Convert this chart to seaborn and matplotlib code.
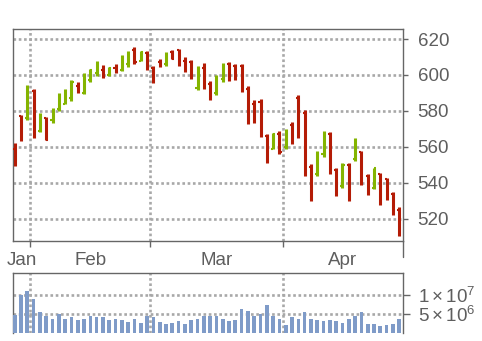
import numpy as np
import pandas as pd
import matplotlib
matplotlib.use("Agg")
import matplotlib.pyplot as plt
import seaborn as sns
from matplotlib.lines import Line2D

# ---------------- data ----------------
opens = [559, 577, 576, 591, 569, 576, 575, 581, 584, 587,
         594, 590, 597, 601, 603, 600, 604, 603, 606, 614,
         608, 612, 604, 607, 606, 613, 614, 608, 607, 593,
         604, 595, 590, 598, 606, 605, 605, 592, 584, 585,
         566, 559, 567, 560, 572, 587, 579, 549, 545, 556,
         567, 547, 538, 550, 553, 557, 544, 537, 545, 542,
         534, 525]
highs = [562.0, 577.7, 594.4, 592.1, 578.6, 576.4, 581.4, 589.7, 592.0, 597.2,
         596.2, 601.2, 603.3, 607.7, 605.5, 604.4, 606.1, 611.1, 613.3, 615.5,
         613.3, 613.3, 605.0, 608.7, 612.8, 613.9, 614.4, 609.8, 608.3, 605.0,
         606.4, 596.6, 599.9, 606.4, 607.0, 606.1, 606.1, 593.8, 586.0, 586.9,
         567.1, 567.8, 568.7, 569.9, 573.8, 588.8, 580.4, 550.7, 557.5, 568.7,
         568.4, 548.1, 550.9, 550.9, 564.7, 557.6, 544.8, 548.5, 545.7, 542.9,
         534.8, 526.6]
lows = [549.2, 563.4, 574.9, 565.2, 568.4, 563.7, 573.4, 579.9, 583.8, 585.6,
        590.1, 589.4, 596.2, 599.4, 598.5, 599.4, 601.2, 602.4, 604.6, 606.3,
        607.7, 602.7, 595.7, 604.6, 605.1, 608.9, 605.1, 601.8, 597.7, 591.6,
        592.1, 586.0, 588.8, 596.2, 596.6, 597.2, 590.7, 572.6, 573.4, 565.6,
        551.1, 558.7, 555.9, 558.7, 561.5, 565.0, 543.9, 529.9, 543.9, 554.5,
        544.8, 532.5, 537.1, 529.9, 552.2, 538.7, 533.1, 536.4, 527.5, 530.3,
        522.0, 510.3]
closes = [551, 565, 593, 566, 578, 564, 580, 588, 591, 596,
          591, 600, 603, 606, 599, 604, 602, 610, 612, 607,
          613, 605, 597, 605, 610, 609, 606, 603, 599, 604,
          594, 588, 599, 605, 598, 598, 592, 574, 576, 567,
          553, 567, 557, 569, 565, 567, 545, 532, 556, 567,
          546, 534, 550, 531, 564, 540, 534, 548, 529, 531,
          523, 511]
volumes = [4.7e6, 10.1e6, 11.0e6, 9.0e6, 5.6e6, 4.6e6, 3.8e6, 5.1e6, 3.8e6, 4.1e6,
           3.3e6, 3.6e6, 4.4e6, 4.1e6, 4.1e6, 3.4e6, 3.6e6, 3.3e6, 2.8e6, 3.8e6,
           2.6e6, 4.6e6, 4.1e6, 2.8e6, 2.3e6, 2.6e6, 3.1e6, 2.3e6, 3.3e6, 3.8e6,
           4.6e6, 4.6e6, 4.4e6, 3.6e6, 3.1e6, 3.3e6, 6.4e6, 5.9e6, 4.6e6, 5.1e6,
           7.4e6, 4.4e6, 3.8e6, 2.1e6, 4.1e6, 3.8e6, 5.4e6, 3.8e6, 3.3e6, 3.1e6,
           3.3e6, 3.1e6, 2.6e6, 3.8e6, 4.6e6, 5.6e6, 2.3e6, 2.3e6, 1.8e6, 2.1e6,
           2.3e6, 3.6e6]
month_labels = ["Jan", "Feb", "Mar", "Apr"]
month_first_day = [0, 3, 22, 43]          # trading-day index where each month starts
price_ticks = [520, 540, 560, 580, 600, 620]
volume_ticks = [5e6, 1e7]
volume_tick_labels = [r"$5\times10^{6}$", r"$1\times10^{7}$"]

# ---------------- styling ----------------
sns.set_style("white")
plt.rcParams["font.family"] = ["Liberation Sans", "DejaVu Sans"]
plt.rcParams["mathtext.fontset"] = "custom"
plt.rcParams["mathtext.rm"] = "Liberation Sans"
plt.rcParams["mathtext.it"] = "Liberation Sans:italic"
plt.rcParams["mathtext.bf"] = "Liberation Sans:bold"

GREEN = "#84b400"
RED = "#b41c06"
VOLC = "#7f9bc8"
FRAME = "#666666"
TXT = "#5e5e5e"
GRID = "#a8a8a8"
FS = 13.5
GRID_LW = 1.9

W, H = 482, 341
fig = plt.figure(figsize=(W / 100, H / 100), dpi=100)

def box(l, t, r, b):
    return [l / W, 1 - b / H, (r - l) / W, (b - t) / H]

ax = fig.add_axes(box(12.5, 29, 403, 241))
axv = fig.add_axes(box(12.5, 272.7, 403, 333))

df = pd.DataFrame({"day": np.arange(len(opens)), "open": opens, "high": highs,
                   "low": lows, "close": closes, "volume": volumes})
df["color"] = np.where(df["close"] >= df["open"], GREEN, RED)

n = len(df)
xlim = (-0.35, n - 0.4)
boundaries = [d - 0.5 for d in month_first_day[1:]]
edges = [xlim[0]] + boundaries + [xlim[1]]
label_pos = [(edges[i] + edges[i + 1]) / 2 for i in range(len(month_labels))]

# ---------------- price panel (OHLC) ----------------
ax.vlines(df["day"], df["low"], df["high"], colors=df["color"], lw=2.2,
          capstyle="butt", zorder=3)
ax.hlines(df["open"], df["day"] - 0.33, df["day"], colors=df["color"], lw=1.5,
          capstyle="butt", zorder=3)
ax.hlines(df["close"], df["day"], df["day"] + 0.33, colors=df["color"], lw=1.5,
          capstyle="butt", zorder=3)

ax.set_xlim(*xlim)
ax.set_ylim(507.6, 625.6)
ax.set_yticks(price_ticks)
ax.set_yticklabels([str(t) for t in price_ticks])
ax.yaxis.tick_right()
ax.set_xticks(boundaries)
ax.set_xticklabels([""] * len(boundaries))
ax.set_xticks(label_pos, minor=True)
ax.set_xticklabels(month_labels, minor=True)
ax.tick_params(axis="x", which="major", direction="out", length=4, width=1,
               color=FRAME, bottom=True)
ax.tick_params(axis="x", which="minor", length=0, pad=8, labelsize=FS,
               labelcolor=TXT, bottom=True)
ax.tick_params(axis="y", which="major", direction="out", length=3.5, width=1,
               color=FRAME, right=True, left=False, pad=7, labelsize=FS,
               labelcolor=TXT)
ax.grid(True, which="major", linestyle=(0, (1, 1)), lw=GRID_LW, color=GRID)
ax.set_axisbelow(True)
for s in ax.spines.values():
    s.set_color(FRAME)
    s.set_linewidth(1)
ax.set_xlabel("")
ax.set_ylabel("")

# right frame extension below the price panel
fig.add_artist(Line2D([403 / W, 403 / W], [1 - 241 / H, 1 - 257 / H],
                      color=FRAME, lw=1, transform=fig.transFigure))

# ---------------- volume panel ----------------
sns.barplot(data=df, x="day", y="volume", native_scale=True, width=0.58,
            color=VOLC, saturation=1, errorbar=None, linewidth=0, ax=axv,
            zorder=3)
axv.set_xlim(*xlim)
axv.set_ylim(0, 15.87e6)
axv.set_yticks(volume_ticks)
axv.set_yticklabels(volume_tick_labels)
axv.yaxis.tick_right()
axv.set_xticks(boundaries)
axv.set_xticklabels([])
axv.tick_params(axis="x", length=0)
axv.tick_params(axis="y", direction="out", length=5, width=1, color=FRAME,
                right=True, left=False, pad=6, labelsize=FS, labelcolor=TXT)
axv.grid(True, which="major", linestyle=(0, (1, 1)), lw=GRID_LW, color=GRID)
axv.set_axisbelow(True)
for name, s in axv.spines.items():
    s.set_color(FRAME)
    s.set_linewidth(1)
axv.spines["bottom"].set_visible(False)
axv.set_xlabel("")
axv.set_ylabel("")

fig.savefig("out.png", dpi=100)
